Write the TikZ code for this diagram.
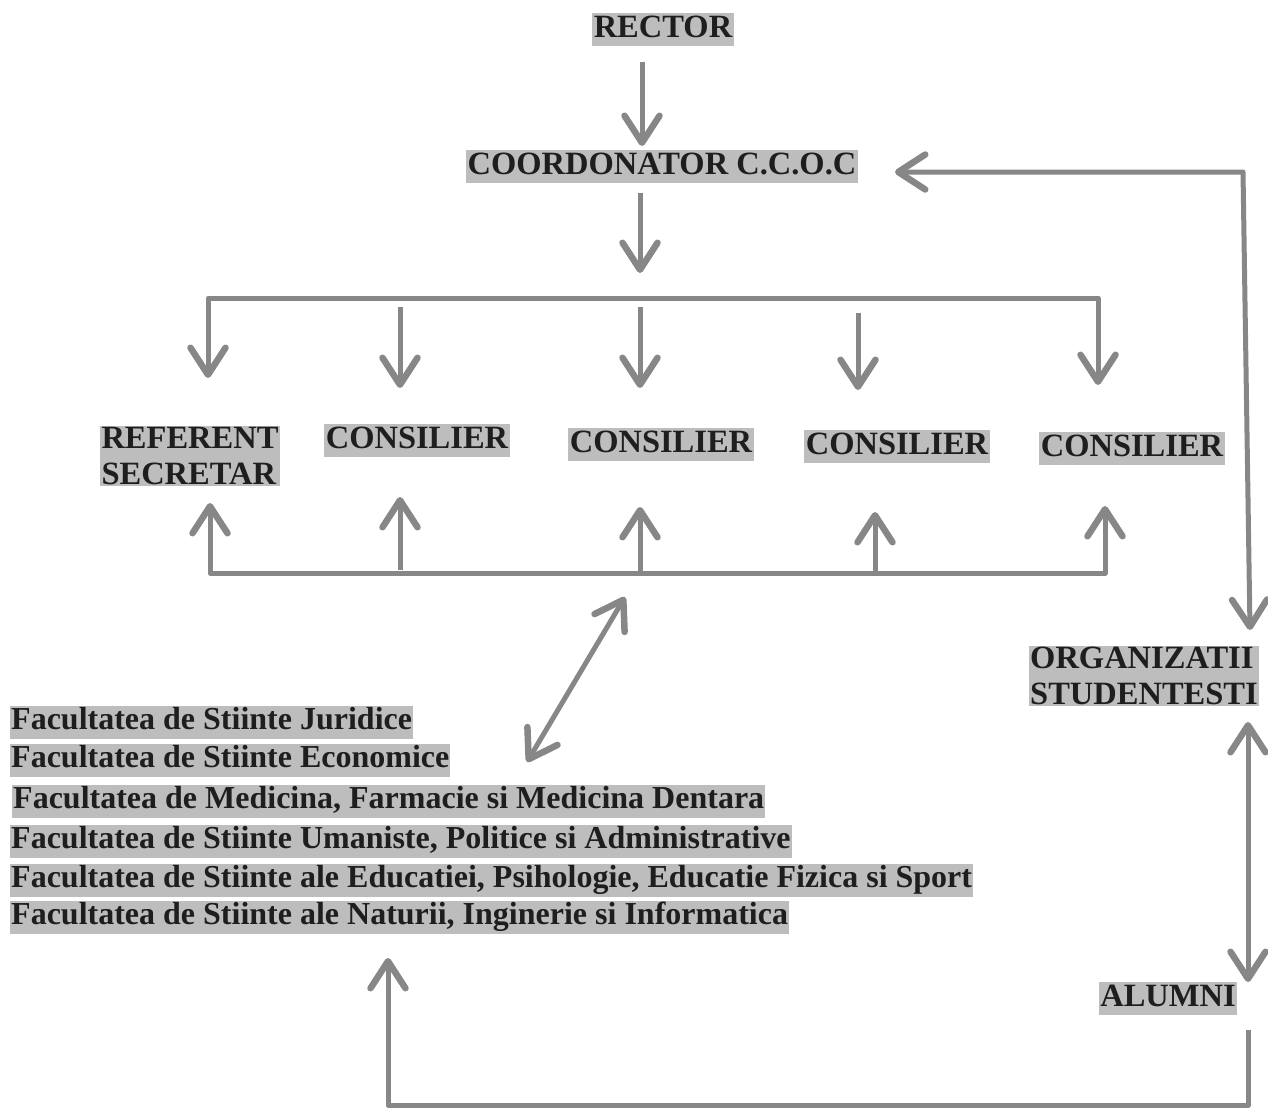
\documentclass[tikz,border=0pt]{standalone}
\usepackage{fontspec}
\setmainfont{Liberation Serif}
\usetikzlibrary{arrows.meta}
\definecolor{lc}{HTML}{878787}
\definecolor{hl}{HTML}{BDBDBD}
\definecolor{tc}{HTML}{1E1E1E}
\begin{document}
\begin{tikzpicture}[x=1pt,y=-1pt,
  lbl/.style={fill=hl,text=tc,font=\fontsize{32.5}{36}\selectfont\bfseries,inner xsep=1.5pt,inner ysep=1.5pt,text height=23pt,text depth=7pt},
  lbl2/.style={fill=hl,text=tc,font=\fontsize{32.5}{36}\selectfont\bfseries,inner xsep=1.5pt,inner ysep=1.5pt,align=left},
  fac/.style={fill=hl,text=tc,font=\fontsize{32}{36}\selectfont\bfseries,inner xsep=1pt,inner ysep=1pt,text height=23pt,text depth=8pt,anchor=west},
  tip/.tip={Straight Barb[length=27pt,width=35pt,line width=6.5pt,round]},
  arr/.style={draw=lc,line width=5pt,-tip,line join=round},
  darr/.style={draw=lc,line width=5pt,tip-tip,line join=round}]
\useasboundingbox (0,0) rectangle (1268,1109);
% nodes
\node[lbl] (rector) at (663,29) {RECTOR};
\node[lbl] (coord) at (662,166) {COORDONATOR C.C.O.C};
\node[lbl2] (ref) at (190,456) {REFERENT\\SECRETAR};
\node[lbl] (c1) at (417,440) {CONSILIER};
\node[lbl] (c2) at (661,444) {CONSILIER};
\node[lbl] (c3) at (897,446) {CONSILIER};
\node[lbl] (c4) at (1132,448) {CONSILIER};
\node[lbl2] (org) at (1144,676) {ORGANIZATII\\STUDENTESTI};
\node[lbl] (alumni) at (1168,998) {ALUMNI};
\node[fac] (f1) at (10,722) {Facultatea de Stiinte Juridice};
\node[fac] (f2) at (10,760) {Facultatea de Stiinte Economice};
\node[fac] (f3) at (12,801) {Facultatea de Medicina, Farmacie si Medicina Dentara};
\node[fac] (f4) at (10,841) {Facultatea de Stiinte Umaniste, Politice si Administrative};
\node[fac] (f5) at (10,880) {Facultatea de Stiinte ale Educatiei, Psihologie, Educatie Fizica si Sport};
\node[fac] (f6) at (10,917) {Facultatea de Stiinte ale Naturii, Inginerie si Informatica};
% coordinates
\coordinate (r1) at (642,62);   \coordinate (r2) at (642,146);
\coordinate (k1) at (640,193);  \coordinate (k2) at (640,273);
\coordinate (tl) at (208,298);  \coordinate (tr) at (1098,298);
\coordinate (tlt) at (208,378); \coordinate (trt) at (1098,385);
\coordinate (d1a) at (400,307); \coordinate (d1b) at (400,388);
\coordinate (d2a) at (640,307); \coordinate (d2b) at (640,388);
\coordinate (d3a) at (858,313); \coordinate (d3b) at (858,390);
\coordinate (bl) at (210,573);  \coordinate (br) at (1105,573);
\coordinate (blt) at (210,503); \coordinate (brt) at (1105,506);
\coordinate (u1a) at (400,570); \coordinate (u1b) at (400,497);
\coordinate (u2a) at (640,573); \coordinate (u2b) at (640,507);
\coordinate (u3a) at (875,573); \coordinate (u3b) at (875,512);
\coordinate (xa) at (625,597);  \coordinate (xb) at (527,762);
\coordinate (rt) at (1243,172); \coordinate (rtt) at (895,172);
\coordinate (rb) at (1250,630);
\coordinate (oa) at (1248,722); \coordinate (ob) at (1248,982);
\coordinate (al) at (1248,1030); \coordinate (bc) at (1248,1105);
\coordinate (bcl) at (388,1105); \coordinate (ft) at (388,958);
% connectors
\draw[arr] (r1) -- (r2);
\draw[arr] (k1) -- (k2);
\draw[darr] (tlt) -- (tl) -- (tr) -- (trt);
\draw[arr] (d1a) -- (d1b);
\draw[arr] (d2a) -- (d2b);
\draw[arr] (d3a) -- (d3b);
\draw[darr] (blt) -- (bl) -- (br) -- (brt);
\draw[arr] (u1a) -- (u1b);
\draw[arr] (u2a) -- (u2b);
\draw[arr] (u3a) -- (u3b);
\draw[darr] (xa) -- (xb);
\draw[darr] (rtt) -- (rt) -- (rb);
\draw[darr] (oa) -- (ob);
\draw[arr] (al) -- (bc) -- (bcl) -- (ft);
\end{tikzpicture}
\end{document}
